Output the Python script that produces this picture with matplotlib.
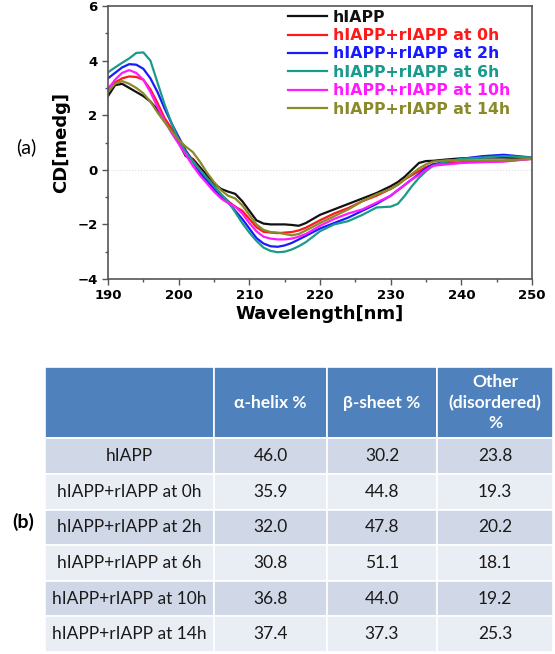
import numpy as np
import matplotlib
matplotlib.use("Agg")
import matplotlib.pyplot as plt

# comprimento de onda (nm)
wl = [190, 191, 192, 193, 194, 195, 196, 197, 198, 199, 200, 201, 202, 203,
      204, 205, 206, 207, 208, 209, 210, 211, 212, 213, 214, 215, 216, 217,
      218, 220, 222, 224, 226, 228, 230, 231, 232, 233, 234, 235, 236, 238,
      240, 243, 246, 250]

cd_h = [2.7, 3.1, 3.15, 3.0, 2.85, 2.7, 2.5, 2.2, 1.85, 1.5, 1.0, 0.5, 0.4, 0.1,
        -0.2, -0.5, -0.7, -0.8, -0.88, -1.15, -1.5, -1.85, -1.97, -2.0, -2.0, -2.0, -2.02, -2.05,
        -1.95, -1.65, -1.45, -1.25, -1.05, -0.85, -0.6, -0.45, -0.25, 0.0, 0.25, 0.32, 0.33, 0.38,
        0.42, 0.45, 0.45, 0.42]
cd_0h = [3.0, 3.2, 3.35, 3.42, 3.4, 3.3, 2.95, 2.45, 1.9, 1.5, 1.1, 0.7, 0.35, 0.0,
         -0.3, -0.6, -0.9, -1.15, -1.35, -1.5, -1.8, -2.1, -2.27, -2.3, -2.32, -2.3, -2.28, -2.22,
         -2.12, -1.85, -1.6, -1.4, -1.15, -0.95, -0.7, -0.55, -0.35, -0.2, -0.05, 0.1, 0.2, 0.25,
         0.28, 0.3, 0.32, 0.4]
cd_2h = [3.35, 3.55, 3.75, 3.87, 3.85, 3.7, 3.35, 2.85, 2.25, 1.7, 1.2, 0.7, 0.3, -0.1,
         -0.4, -0.7, -1.0, -1.2, -1.5, -1.8, -2.15, -2.5, -2.7, -2.8, -2.82, -2.77, -2.68, -2.55,
         -2.42, -2.15, -1.95, -1.75, -1.5, -1.25, -0.95, -0.75, -0.55, -0.35, -0.15, 0.05, 0.2, 0.3,
         0.4, 0.5, 0.55, 0.45]
cd_6h = [3.57, 3.75, 3.92, 4.08, 4.28, 4.3, 4.0, 3.2, 2.4, 1.7, 1.1, 0.65, 0.3, 0.0,
         -0.3, -0.6, -0.9, -1.15, -1.55, -1.95, -2.3, -2.6, -2.85, -2.97, -3.02, -3.0, -2.92, -2.8,
         -2.65, -2.25, -2.0, -1.88, -1.65, -1.38, -1.35, -1.25, -0.95, -0.6, -0.3, -0.05, 0.15, 0.3,
         0.4, 0.45, 0.5, 0.45]
cd_10h = [2.95, 3.3, 3.55, 3.65, 3.55, 3.3, 2.85, 2.3, 1.8, 1.35, 0.95, 0.55, 0.15, -0.2,
          -0.5, -0.8, -1.05, -1.22, -1.35, -1.6, -1.95, -2.25, -2.45, -2.52, -2.55, -2.55, -2.52, -2.45,
          -2.35, -2.05, -1.8, -1.6, -1.45, -1.2, -0.95, -0.75, -0.55, -0.35, -0.2, 0.0, 0.15, 0.2,
          0.25, 0.28, 0.3, 0.4]
cd_14h = [2.85, 3.15, 3.25, 3.15, 3.0, 2.8, 2.5, 2.1, 1.75, 1.4, 1.1, 0.85, 0.65, 0.3,
          -0.1, -0.45, -0.75, -0.95, -1.05, -1.3, -1.65, -2.0, -2.2, -2.28, -2.3, -2.35, -2.4, -2.35,
          -2.22, -1.95, -1.7, -1.45, -1.15, -0.9, -0.7, -0.55, -0.35, -0.15, 0.05, 0.2, 0.3, 0.35,
          0.35, 0.35, 0.35, 0.4]

nomes = ["hIAPP", "hIAPP+rIAPP at 0h", "hIAPP+rIAPP at 2h", "hIAPP+rIAPP at 6h",
         "hIAPP+rIAPP at 10h", "hIAPP+rIAPP at 14h"]
cores = ["#111111", "#ff1a1a", "#1a1aff", "#1a9a8c", "#ff1aff", "#8a8a2a"]

# tabela de estrutura secundaria
colunas = ["", "\u03b1-helix %", "\u03b2-sheet %", "Other\n(disordered)\n%"]
helix = [46.0, 35.9, 32.0, 30.8, 36.8, 37.4]
sheet = [30.2, 44.8, 47.8, 51.1, 44.0, 37.3]
outro = [23.8, 19.3, 20.2, 18.1, 19.2, 25.3]

W, H = 555, 654
fig = plt.figure(figsize=(W / 100, H / 100), dpi=100)

# ---- (a) espectro CD ----
ax = fig.add_axes([108 / W, 1 - 279 / H, 424 / W, 273 / H])
for y, nome, cor in zip([cd_h, cd_0h, cd_2h, cd_6h, cd_10h, cd_14h], nomes, cores):
    ax.plot(wl, y, color=cor, lw=1.6, label=nome)
ax.axhline(0, color="#dddddd", lw=0.8, ls=":", zorder=0)

ax.set_xlim(190, 250)
ax.set_ylim(-4, 6)
ax.set_xticks(np.arange(190, 251, 10))
ax.set_xticks(np.arange(195, 250, 10), minor=True)
ax.set_yticks(np.arange(-4, 7, 2))
ax.set_yticks(np.arange(-3, 6, 2), minor=True)
ax.tick_params(which="both", direction="out", width=1, color="#555555")
ax.tick_params(which="major", length=4, labelsize=9.5)
ax.tick_params(which="minor", length=2.5)
for lab in ax.get_xticklabels() + ax.get_yticklabels():
    lab.set_fontweight("bold")
for s in ax.spines.values():
    s.set_color("#555555")
    s.set_linewidth(1.2)
ax.set_xlabel("Wavelength[nm]", fontsize=13, fontweight="bold", labelpad=2)
ax.set_ylabel("CD[medg]", fontsize=13, fontweight="bold", labelpad=5)

leg = ax.legend(loc="upper left", bbox_to_anchor=(0.41, 1.01), frameon=False,
                prop={"weight": "bold", "size": 11.3}, handlelength=2.5,
                handletextpad=0.35, labelspacing=0.22, borderaxespad=0)
for txt, cor in zip(leg.get_texts(), cores):
    txt.set_color(cor)

fig.text(16 / W, 1 - 147 / H, "(a)", fontsize=14, ha="left", va="center", family="Lato")
fig.text(12 / W, 1 - 522 / H, "(b)", fontsize=14, ha="left", va="center", family="Lato",
         fontweight="bold")

# ---- (b) tabela ----
tax = fig.add_axes([45 / W, 2 / H, 508 / W, 285 / H])
tax.axis("off")
linhas = [[nomes[i], f"{helix[i]:.1f}", f"{sheet[i]:.1f}", f"{outro[i]:.1f}"]
          for i in range(len(nomes))]
tab = tax.table(cellText=[colunas] + linhas, bbox=[0, 0, 1, 1], cellLoc="center",
                colWidths=[169, 113, 110, 116])
tab.auto_set_font_size(False)
for (r, c), cell in tab.get_celld().items():
    cell.set_edgecolor("white")
    cell.set_linewidth(1.2)
    cell.set_height(71 if r == 0 else 35.5)
    t = cell.get_text()
    t.set_fontfamily("Lato")
    t.set_fontsize(12.5)
    if r == 0:
        cell.set_facecolor("#4f81bd")
        t.set_color("white")
        t.set_fontweight("bold")
        t.set_linespacing(1.35)
    else:
        cell.set_facecolor("#d0d8e8" if r % 2 == 1 else "#e9edf4")
        t.set_color("#1a1a1a")

fig.savefig("out.png", dpi=100)
